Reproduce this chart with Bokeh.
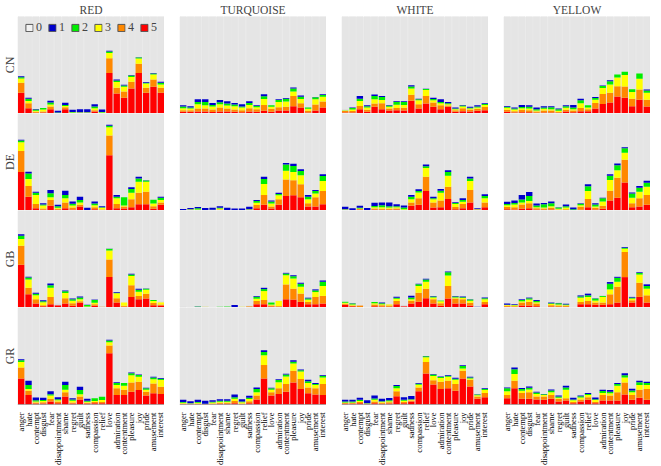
import math
from bokeh.plotting import figure
from bokeh.layouts import gridplot
from bokeh.models import (Range1d, FactorRange, Span, Title, Legend, LegendItem,
                          ColumnDataSource)
from bokeh.embed import file_html
from bokeh.resources import INLINE

EMOTIONS = ["anger", "hate", "contempt", "disgust", "fear", "disappointment",
            "shame", "regret", "guilt", "sadness", "compassion", "relief", "love",
            "admiration", "contentment", "pleasure", "joy", "pride", "amusement",
            "interest"]
COLOURS = ["RED", "TURQUOISE", "WHITE", "YELLOW"]
COUNTRIES = ["CN", "DE", "GB", "GR"]
LEVELS = ["0", "1", "2", "3", "4", "5"]
LEVEL_COLORS = ["#d9d9d9", "#0000cc", "#00ee00", "#ffff00", "#ff8800", "#ff0000"]
Y_MAX = 98  # top of the grey columns

NO_ZERO = [0, 0, 0, 0, 0, 0, 0, 0, 0, 0, 0, 0, 0, 0, 0, 0, 0, 0, 0, 0]

# ---------------- CN ----------------
RED_CN_5 = [21, 5.3, 0.8, 1, 4.3, 0.3, 4.3, 0.3, 0.3, 0.3, 2, 0.3, 41, 20.3, 16, 25.3, 41, 21, 27, 21]
RED_CN_4 = [10, 5, 1, 1, 2.7, 0.3, 2, 0.3, 0.3, 0.3, 1.3, 0.3, 14.7, 5.7, 6.3, 6.7, 9.3, 5, 7.3, 5]
RED_CN_3 = [4.3, 2.3, 1, 2, 2, 0, 1.3, 0.3, 0.3, 0.3, 2, 0.5, 5.3, 5.7, 4.7, 5, 5.3, 4.3, 5, 3.3]
RED_CN_2 = [1.3, 2.3, 1.2, 1.5, 2, 0.3, 1, 0.5, 0.3, 0.3, 1.7, 0.5, 1.7, 1.7, 1.3, 1.3, 1, 0.7, 1, 1.7]
RED_CN_1 = [1, 1, 0.5, 0, 2, 1.8, 2.3, 2.3, 3, 3, 2.3, 2.5, 0.7, 1, 0.7, 0.7, 0.3, 0.7, 0.7, 1]
RED_CN_0 = NO_ZERO

TUR_CN_5 = [1.7, 1.7, 2, 2, 1.5, 2, 2, 1.7, 1.3, 2, 1.7, 2.7, 1.7, 3, 3, 7.3, 6, 1, 3, 6]
TUR_CN_4 = [1.7, 1.7, 3, 3, 2.5, 4, 3, 2.3, 2, 3.3, 2.7, 6, 3, 3.3, 3.7, 10.3, 4.3, 1.7, 6, 6]
TUR_CN_3 = [2, 1.7, 4.3, 3.3, 3, 3.3, 3, 3.3, 2.7, 3.3, 2, 6, 2, 5.3, 5.3, 4.7, 4.3, 2, 5.3, 5]
TUR_CN_2 = [1.7, 1, 2.3, 3.3, 1.7, 2, 2, 1.7, 1, 2, 1.3, 2.7, 1.7, 2, 3, 3, 2.3, 1.3, 2, 1.7]
TUR_CN_1 = [1.3, 1.3, 2.7, 2.7, 2, 2.3, 2.3, 1.7, 2.3, 1.7, 0.7, 2, 0, 0.7, 0.7, 1, 1.3, 0, 0.3, 0.7]
TUR_CN_0 = NO_ZERO

WHI_CN_5 = [1, 1, 4.3, 1.7, 6.7, 4.3, 3, 3.3, 3, 13, 5, 10, 6.7, 4.3, 6.7, 1.7, 2.3, 2, 2.7, 3.3]
WHI_CN_4 = [1.5, 1.5, 3.3, 2, 3.3, 6, 2, 2.3, 2.7, 6, 4.3, 7.7, 4.3, 4, 1.3, 1.7, 3, 2, 2, 3.3]
WHI_CN_3 = [0.5, 1.5, 5, 2.3, 4.3, 3.3, 1.7, 3.3, 3, 6.3, 4, 6, 2.3, 2, 1.3, 1, 1.7, 1, 1.3, 2]
WHI_CN_2 = [0.3, 1.5, 2.3, 1.3, 3.3, 3, 1.3, 3, 3, 2, 1, 1, 1.3, 1.3, 1, 0.7, 1, 0.7, 1, 1]
WHI_CN_1 = [0, 0.5, 2.7, 1, 1.7, 1, 0.7, 0.7, 0.7, 1.3, 0.7, 0.3, 1.3, 2.7, 1.3, 1, 0.7, 1, 1.3, 0.7]
WHI_CN_0 = [1, 0, 0, 0, 0, 0, 0, 0, 0, 0, 0, 0, 0, 0, 0, 0, 0, 0, 0, 0]

YEL_CN_5 = [1.7, 1, 1.3, 1.3, 0.7, 1, 1, 0.7, 2, 1.3, 2.3, 2.3, 5, 9.7, 11, 17.3, 16, 7.3, 14, 7]
YEL_CN_4 = [2, 1.3, 2.3, 2, 1.3, 2, 2, 0.7, 1.7, 1.7, 3.3, 2, 5.7, 10, 10, 10.3, 11.3, 7.7, 10.3, 7]
YEL_CN_3 = [2, 1.7, 1.7, 1.7, 1, 1.7, 1.3, 1.3, 2, 1.3, 4.7, 1.7, 3.3, 6, 8.3, 8.7, 11.7, 6.7, 10.7, 7]
YEL_CN_2 = [1, 1, 1.3, 1.7, 1.3, 1.3, 2, 1.7, 1.7, 1.7, 3, 2.3, 1.7, 2, 3.3, 3, 3.3, 2.7, 5.3, 2.3]
YEL_CN_1 = [1, 1, 2, 1.7, 1.7, 1.3, 1, 0.7, 1, 2.7, 1.7, 0, 1, 0.7, 1, 0, 0, 0, 0, 1]
YEL_CN_0 = NO_ZERO

# ---------------- DE ----------------
RED_DE_5 = [39, 14, 2.3, 0.7, 4.7, 0.7, 2.3, 1, 4, 0.3, 1.3, 0.3, 55.7, 2.3, 2, 3.3, 6.3, 6.3, 1.7, 5.7]
RED_DE_4 = [21, 10.7, 4.3, 1.3, 6, 1, 5.7, 2, 1.7, 0, 2, 0.7, 20, 4.3, 2, 8, 11.7, 12.7, 2.7, 2.3]
RED_DE_3 = [9, 7, 9, 3, 2.7, 1, 4.3, 2, 2.3, 0.3, 2, 1.7, 8.3, 5.7, 1, 6.7, 11, 10, 2.7, 2.7]
RED_DE_2 = [1.7, 5.7, 2.3, 1, 4, 1.7, 3.3, 1.7, 2.7, 0, 1.7, 0.7, 1.7, 1.7, 8.3, 3.7, 3.3, 1.3, 3.7, 2.3]
RED_DE_1 = [0.7, 1.7, 1, 1.3, 3.3, 1.3, 4.3, 2.3, 3.3, 2.3, 2, 1, 1, 1.7, 0, 1.7, 1.7, 0.3, 0, 1]
RED_DE_0 = NO_ZERO

TUR_DE_5 = [0, 0.3, 0.3, 0, 0.2, 0.3, 0, 0, 0, 0.3, 2.3, 5.7, 2, 5.7, 14.7, 15.3, 13.3, 4, 4, 6.3]
TUR_DE_4 = [0, 0.3, 0.3, 0, 0.2, 0.7, 0, 0, 0, 0.3, 3.3, 10, 2, 5.7, 16.7, 15.3, 13.3, 3.3, 9.3, 13.3]
TUR_DE_3 = [0, 0.3, 0.3, 0.3, 0.2, 1, 0.2, 0, 0, 0.3, 2.3, 11, 3, 4, 8.7, 8.3, 9, 4, 4, 10.3]
TUR_DE_2 = [0.3, 0.3, 1.3, 0.3, 0.2, 0.7, 0.2, 0, 0, 0.3, 1.7, 5, 2, 1.3, 6.3, 6, 4.3, 2.7, 2.3, 5]
TUR_DE_1 = [1.3, 1.3, 1.3, 2, 2, 1.7, 2.3, 2, 2, 2.7, 1, 2.3, 1, 1.3, 1.7, 2.3, 1.7, 1.7, 1, 1.7]
TUR_DE_0 = NO_ZERO

WHI_DE_5 = [0.3, 0, 0.7, 0, 1, 0.7, 0.7, 1, 0.3, 4.7, 5.7, 19.7, 3, 3.3, 11.7, 1.3, 2.3, 8, 0, 3.3]
WHI_DE_4 = [0.3, 0, 0.7, 0, 1, 1, 1, 1, 0.3, 3.3, 6.7, 14.3, 5, 6.7, 12.3, 2.3, 4.3, 12.7, 0, 4.7]
WHI_DE_3 = [0.3, 0, 0.7, 0.3, 1.3, 1.7, 1.3, 1.3, 0.7, 3.3, 5.7, 9, 3.3, 8, 11, 3, 2.3, 9, 1.3, 4.3]
WHI_DE_2 = [0.3, 0.3, 0.7, 0, 1.3, 2, 1.3, 1, 1.7, 2.7, 1.7, 1.7, 1, 2, 4, 1, 1.7, 2.7, 0, 2.3]
WHI_DE_1 = [2.7, 2, 2, 2.3, 3.3, 2.7, 3.7, 2, 2, 1.7, 1.7, 1.7, 1.7, 1.7, 1.7, 0.7, 1.7, 1.7, 1, 1.7]
WHI_DE_0 = NO_ZERO

YEL_DE_5 = [1.3, 1, 1.7, 2.3, 1, 0.7, 1, 0.3, 0.3, 0, 0.7, 3.3, 1, 1.7, 10, 13, 28.3, 3.3, 4, 5.7]
YEL_DE_4 = [2.3, 2.3, 4.3, 5, 1.3, 1.3, 1.7, 0.7, 1, 0, 3, 8.3, 1.7, 3, 10, 20, 23, 4, 8.3, 10]
YEL_DE_3 = [1.7, 2.7, 2, 2.3, 1, 1, 1.7, 0.7, 1.7, 0, 1.7, 8, 1.3, 4.3, 10.7, 7.7, 7, 5.7, 6.7, 8.3]
YEL_DE_2 = [1.3, 1.7, 3, 5, 1.7, 3.3, 3, 1.3, 1.3, 1.3, 1.3, 5, 2, 3.3, 4.3, 5, 4.7, 4.3, 4, 4]
YEL_DE_1 = [2.3, 2.3, 4.7, 4, 2, 1.3, 1.7, 0.3, 1.7, 1.7, 0.7, 2, 1.3, 0.7, 1.7, 1.7, 1, 1, 1.7, 2]
YEL_DE_0 = NO_ZERO

# ---------------- GB ----------------
RED_GB_5 = [43.3, 13.3, 4, 1.3, 3.3, 2.3, 4, 1.7, 4.7, 0.3, 1.7, 0, 30.7, 5, 0.7, 10.7, 8.3, 9, 2.3, 2]
RED_GB_4 = [19, 6.7, 4.3, 1, 7.3, 0, 5.3, 2.7, 1.7, 0.3, 1.7, 0.7, 17.7, 4.3, 1, 11.7, 3.3, 5, 2.3, 1]
RED_GB_3 = [7, 8.3, 4, 3, 9.3, 0, 5.3, 2.3, 2, 0.3, 1.3, 0, 9.3, 5, 3.3, 9.3, 4.3, 4, 2, 2.3]
RED_GB_2 = [3.3, 2, 1.7, 1, 2.7, 0, 1.7, 1.7, 1.7, 1.7, 3, 0, 1.7, 0.7, 0, 1.7, 2, 1, 1, 0]
RED_GB_1 = [1.3, 0.7, 1, 1, 1.7, 0, 1, 0.7, 1, 0.3, 0.3, 0, 0.3, 0.7, 0, 0.7, 1, 0.3, 0, 0]
RED_GB_0 = [0, 0, 0, 0, 0, 1.7, 0, 0, 0, 0, 0.3, 0.3, 0.3, 0, 0, 0, 0, 0, 0, 0.7]

TUR_GB_5 = [0, 0, 0, 0, 0, 0, 0, 0, 0, 0, 3.3, 3.3, 1, 0.7, 8.3, 8, 5.7, 3.3, 3.3, 4]
TUR_GB_4 = [0, 0, 0, 0, 0, 0, 0, 0, 0, 1.3, 3.3, 4.3, 1, 0.7, 15, 11, 8.3, 2.3, 7.3, 7.7]
TUR_GB_3 = [0.3, 0, 0, 0.7, 0, 0, 0, 0.3, 0.7, 0, 2.3, 9, 1, 5.3, 9.3, 10.3, 7, 2.3, 5, 10]
TUR_GB_2 = [0, 0, 1, 0, 0, 0.7, 1, 0.3, 0, 0, 2, 2, 2, 0, 1.7, 2.3, 3, 1.3, 1.7, 4.3]
TUR_GB_1 = [0, 0, 0.3, 0, 0, 0, 0, 2, 0, 0, 0.7, 1.3, 0, 0, 0.7, 1, 1, 0.7, 1, 1.3]
TUR_GB_0 = [0.4, 0.3, 0.3, 0.6, 0.3, 0.3, 0.3, 0, 0.3, 0.4, 0, 0, 0, 0, 0, 0, 0, 0, 0, 0]

WHI_GB_5 = [2.7, 1.3, 0, 0, 1.3, 1, 0.7, 3.3, 1.3, 4, 5.7, 9.3, 4, 1.7, 9, 4, 4, 2, 0, 3.3]
WHI_GB_4 = [1, 0.7, 2, 0, 1.7, 1.3, 1.3, 3.3, 0, 2.7, 9.3, 9.7, 4.3, 2.7, 12.7, 5, 4.3, 2.7, 0, 2.3]
WHI_GB_3 = [1, 1, 0, 0, 1.3, 1, 1.3, 2.3, 0, 1.7, 6.7, 7, 1.7, 2, 10.7, 1, 1.3, 2, 0, 2.7]
WHI_GB_2 = [1, 1, 0, 0, 1.3, 1, 0, 1, 0, 1.7, 1.7, 2.3, 1, 0.7, 3.3, 1, 0.7, 1.3, 0, 1]
WHI_GB_1 = [0, 0.3, 0, 0, 0, 0.7, 0, 1, 0, 1.7, 0.7, 0.7, 0.7, 0, 0.7, 0.7, 0.7, 0.3, 0.7, 0.7]
WHI_GB_0 = [0.3, 0, 0.3, 0, 0.3, 0, 0.3, 0, 1.3, 0, 0, 0, 0, 0.3, 0, 0, 0, 0, 0.3, 0]

YEL_GB_5 = [0.7, 0.3, 2, 2, 1.3, 0, 1, 0.7, 0.7, 0, 3.3, 3.3, 2.7, 2.7, 3.3, 5, 30.7, 5, 10.7, 5]
YEL_GB_4 = [1, 1, 3, 3.7, 2.7, 0, 1.3, 1.3, 1, 0, 2.3, 3.3, 2.3, 2.3, 10, 16, 25.3, 2.3, 14.3, 7.3]
YEL_GB_3 = [0.7, 1, 1.3, 2.3, 1.3, 0, 1.3, 1, 0.7, 0, 4.3, 4, 2, 5.7, 5, 5, 3.3, 1.7, 8.3, 6.7]
YEL_GB_2 = [0.3, 0.3, 1.3, 1.3, 1.3, 0, 0.7, 1.3, 0.7, 0, 1.3, 1.7, 2, 1, 5.7, 4, 1, 1, 1.7, 2.7]
YEL_GB_1 = [1.3, 0.7, 0.7, 0.7, 1, 0.3, 0.7, 0.3, 0.7, 0, 1, 1.7, 0.3, 0, 1.7, 1, 0.7, 0.7, 0.7, 1.7]
YEL_GB_0 = [0, 0, 0, 0, 0, 0.4, 0, 0, 0, 0, 0, 0, 0, 0.7, 0, 0, 0, 0, 0, 0]

# ---------------- GR ----------------
RED_GR_5 = [26.3, 9.7, 1, 1, 3, 1.3, 8, 1, 5, 1, 1.3, 1.3, 51.7, 9.7, 9.7, 13, 14.7, 9, 11.3, 10.7]
RED_GR_4 = [11, 4.3, 1, 1.3, 2.7, 1.7, 4.3, 1, 3, 0.7, 1.3, 1.3, 8, 6.7, 5.3, 9.3, 8.3, 4, 10, 7.3]
RED_GR_3 = [5.7, 1.7, 1, 1.3, 3.3, 1.3, 2.7, 1.7, 2.3, 1, 1, 2, 3.3, 3.3, 4, 7.3, 5, 2, 4.3, 6.7]
RED_GR_2 = [1.7, 4, 1.3, 1, 1.3, 1, 4.7, 1.3, 4.3, 1, 2.7, 3.3, 1.7, 2, 2.7, 2, 1.7, 1.3, 1.7, 1.3]
RED_GR_1 = [1, 4.3, 2.7, 2.3, 3, 2, 3.3, 1.3, 3.3, 2, 0, 0, 0.7, 0.7, 0, 0.7, 0.7, 0.7, 0.7, 0.7]
RED_GR_0 = NO_ZERO

TUR_GR_5 = [0.3, 0.3, 0.3, 0.2, 0, 0.7, 0.7, 1.3, 0.3, 1.3, 5, 26.3, 9, 10.7, 13, 22.3, 15.7, 11.3, 10, 9.7]
TUR_GR_4 = [0.7, 0.3, 0.7, 0.2, 1, 1, 1, 2.3, 0.7, 2, 4, 13.7, 3.3, 5.7, 7.7, 11.7, 10, 6, 6.3, 11]
TUR_GR_3 = [0.7, 0.3, 0.7, 0.2, 1, 1, 1, 2.3, 1.3, 2.3, 3.3, 9.7, 2.7, 6, 7.7, 7.3, 7.7, 4.3, 3.3, 6.7]
TUR_GR_2 = [0.7, 0.3, 0.7, 0.2, 0.7, 1, 1, 1.3, 0.7, 1.3, 3.3, 3.3, 1.3, 2.3, 2, 2, 1.3, 2, 1, 1.7]
TUR_GR_1 = [2.3, 2, 2.3, 3, 1.7, 1.7, 1.7, 3, 2.3, 2, 1.7, 1.7, 0.7, 0.7, 0.7, 1.3, 0.7, 1.3, 1, 0.7]
TUR_GR_0 = NO_ZERO

WHI_GR_5 = [0.7, 0.7, 1.3, 0.3, 1.3, 0.7, 1, 8.3, 1.3, 3, 13.3, 31.3, 20.3, 15.7, 16.3, 14, 26.3, 18.3, 5.7, 7.3]
WHI_GR_4 = [0.7, 0.7, 1.3, 0.3, 1.7, 1, 1.3, 5, 1.3, 1, 4, 11.7, 4.3, 7.3, 7.7, 6.7, 7.7, 6.7, 2.3, 4.3]
WHI_GR_3 = [0.7, 0.7, 1, 0.3, 1.7, 1, 1, 3, 1.3, 0.7, 2.7, 4.7, 4.3, 3.7, 4, 4.3, 2.3, 1.3, 1.3, 3]
WHI_GR_2 = [1, 1, 1.3, 0.3, 1.3, 0.7, 1, 2.3, 1, 0.7, 1, 1, 1.3, 1, 1, 1, 2.7, 1, 0.7, 1]
WHI_GR_1 = [1.7, 1.7, 2, 3, 3, 2.3, 2.3, 1, 2.3, 3.3, 0.7, 0.3, 0.7, 0.7, 0.7, 1, 0.7, 0.7, 0.3, 0.7]
WHI_GR_0 = NO_ZERO

YEL_GR_5 = [6.3, 16.3, 5.7, 5.7, 5, 4.7, 5.7, 3, 4, 1.3, 3, 4.7, 1.3, 4, 4, 4, 10, 4.7, 6.7, 4.7]
YEL_GR_4 = [3.3, 7.7, 6, 6.7, 3, 3.3, 4, 2.7, 2.3, 1.3, 2, 2.7, 1.3, 5.7, 5, 8.3, 12.3, 5, 8.3, 11]
YEL_GR_3 = [3.7, 6.7, 2.3, 2.7, 2.7, 1.7, 2.7, 1, 8.7, 1.7, 2, 2.3, 2, 2, 2.3, 6.7, 5, 2.7, 4.7, 4]
YEL_GR_2 = [3, 5, 1.7, 1.7, 1.3, 0.7, 1.7, 1.3, 2.3, 0.7, 1.3, 1, 0.7, 2, 1.7, 1.7, 2.3, 1.7, 2.7, 2]
YEL_GR_1 = [1, 1.7, 1, 1.3, 1, 0.3, 1, 1, 1.7, 1.7, 0.7, 1, 1.7, 1.3, 1.7, 1, 2, 1.7, 1.7, 1.3]
YEL_GR_0 = NO_ZERO

PREFIX = {"RED": "RED", "TURQUOISE": "TUR", "WHITE": "WHI", "YELLOW": "YEL"}
G = globals()

SERIF = "Liberation Serif"
FW, FH = 147, 97
GAP = 15

rows = []
for r, ctry in enumerate(COUNTRIES):
    row = []
    for c, colour in enumerate(COLOURS):
        kw = dict(x_range=FactorRange(*EMOTIONS, range_padding=0, factor_padding=0),
                  y_range=Range1d(0, Y_MAX),
                  frame_width=FW, frame_height=FH,
                  output_backend="svg", toolbar_location=None,
                  min_border_left=(0 if c == 0 else GAP), min_border_right=0,
                  min_border_top=0, min_border_bottom=0)
        if r == 0:
            kw["title"] = colour
        p = figure(**kw)
        p.background_fill_color = "white"
        p.border_fill_color = "white"
        p.outline_line_color = None
        p.xgrid.visible = False
        p.ygrid.visible = False
        p.yaxis.visible = False

        if r == 0:
            p.title.align = "center"
            p.title.text_font = SERIF
            p.title.text_font_size = "11.5px"
            p.title.text_font_style = "normal"
            p.title.standoff = 2
            p.title.offset = 0

        if c == 0:
            p.add_layout(Title(text=ctry, align="center", text_font=SERIF,
                               text_font_size="12px", text_font_style="normal",
                               standoff=1), "left")

        key = PREFIX[colour] + "_" + ctry
        src = ColumnDataSource(dict(
            emotion=EMOTIONS,
            full=[Y_MAX] * len(EMOTIONS),
            l5=G[key + "_5"], l4=G[key + "_4"], l3=G[key + "_3"],
            l2=G[key + "_2"], l1=G[key + "_1"], l0=G[key + "_0"]))

        p.vbar(x="emotion", top="full", width=0.87, color="#e5e5e5", source=src)
        p.vbar_stack(["l5", "l4", "l3", "l2", "l1", "l0"], x="emotion",
                     width=0.87, source=src,
                     color=[LEVEL_COLORS[5], LEVEL_COLORS[4], LEVEL_COLORS[3],
                            LEVEL_COLORS[2], LEVEL_COLORS[1], LEVEL_COLORS[0]],
                     line_color=None)

        p.add_layout(Span(location=0, dimension="width", line_color="#777777",
                          line_width=1.2))

        if r == len(COUNTRIES) - 1:
            ax = p.xaxis[0]
            ax.major_label_orientation = math.pi / 2
            ax.major_tick_line_color = None
            ax.minor_tick_line_color = None
            ax.axis_line_color = None
            ax.major_label_text_font = SERIF
            ax.major_label_text_font_size = "8.5px"
            ax.major_label_text_color = "black"
            ax.major_label_standoff = 2
        else:
            p.xaxis.visible = False

        if r == 0 and c == 0:
            # hidden key-only swatches (outlined squares, as in the key)
            items = []
            for i, lv in enumerate(LEVELS):
                fill = "#f2f2f2" if i == 0 else LEVEL_COLORS[i]
                sw = p.vbar(x=[EMOTIONS[0]], top=[Y_MAX], width=0.5, fill_color=fill,
                            line_color="#555555", line_width=1, visible=False)
                items.append(LegendItem(label=lv, renderers=[sw]))
            leg = Legend(items=items, orientation="horizontal", location="top_center",
                         label_text_font=SERIF, label_text_font_size="12px",
                         glyph_width=9, glyph_height=9, label_standoff=3,
                         label_width=6, label_height=10,
                         spacing=5, padding=1, margin=4,
                         background_fill_alpha=0, border_line_color=None)
            p.add_layout(leg)
        row.append(p)
    rows.append(row)

grid = gridplot(rows, toolbar_location=None)

open("out.html", "w").write(file_html(grid, INLINE))
